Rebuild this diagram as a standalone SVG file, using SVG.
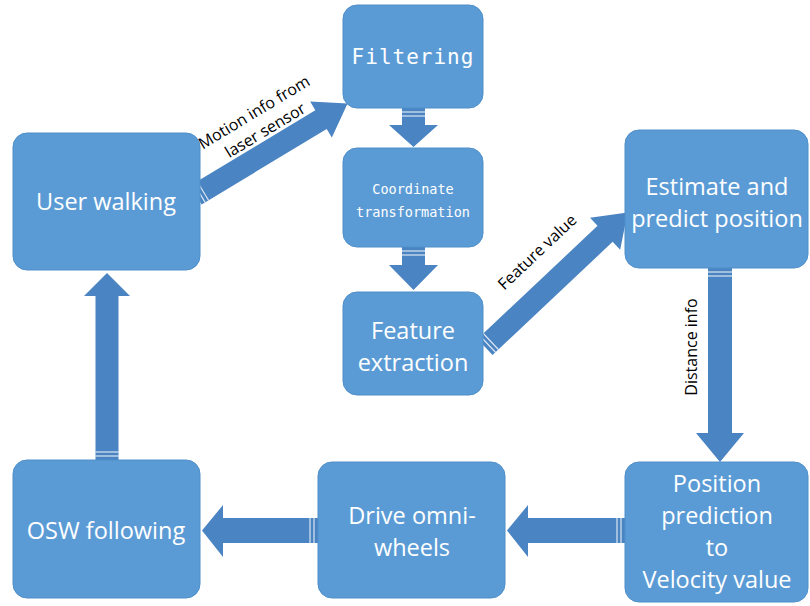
<svg xmlns="http://www.w3.org/2000/svg" width="810" height="606" viewBox="0 0 810 606">
<defs>
<style>
.box{fill:#5b9bd5;stroke:#4f8fca;stroke-width:1}
.arr{fill:#4a84c2}
.st{stroke:#ffffff;stroke-width:1.2;opacity:0.8}
.t{font-family:"Open Sans",Lato,"Liberation Sans",sans-serif;font-size:23.5px;fill:#ffffff;text-anchor:middle}
.m{font-family:"DejaVu Sans Mono","Liberation Mono",monospace;fill:#ffffff;text-anchor:middle}
.lb{font-family:"Open Sans",Lato,"Liberation Sans",sans-serif;font-size:16px;fill:#000000;text-anchor:middle}
</style>
</defs>
<rect width="810" height="606" fill="#ffffff"/>
<g id="connectors">
  <g id="c-user-filter" transform="translate(196,195) rotate(-31.1)">
    <polygon class="arr" points="0,-11 146,-11 146,-21 177,0 146,21 146,11 0,11"/>
    <line class="st" x1="4" y1="-11" x2="4" y2="11"/>
    <line class="st" x1="8" y1="-11" x2="8" y2="11"/>
  </g>
  <g id="c-filter-coord">
    <polygon class="arr" points="402,108 425,108 425,125 438,125 413.5,147 389,125 402,125"/>
    <line class="st" x1="402" y1="112" x2="425" y2="112"/>
    <line class="st" x1="402" y1="116" x2="425" y2="116"/>
  </g>
  <g id="c-coord-feature">
    <polygon class="arr" points="402,247 425,247 425,265 438,265 413.5,290 389,265 402,265"/>
    <line class="st" x1="402" y1="251" x2="425" y2="251"/>
    <line class="st" x1="402" y1="255" x2="425" y2="255"/>
  </g>
  <g id="c-feature-estimate" transform="translate(485,347) rotate(-43.3)">
    <polygon class="arr" points="0,-11 165,-11 165,-22 196,0 165,22 165,11 0,11"/>
    <line class="st" x1="4" y1="-11" x2="4" y2="11"/>
    <line class="st" x1="8" y1="-11" x2="8" y2="11"/>
  </g>
  <g id="c-estimate-position">
    <polygon class="arr" points="708,268 732,268 732,433 744,433 720,462 696,433 708,433"/>
    <line class="st" x1="708" y1="272" x2="732" y2="272"/>
    <line class="st" x1="708" y1="276" x2="732" y2="276"/>
  </g>
  <g id="c-position-drive">
    <polygon class="arr" points="625,518 625,543 528,543 528,557 507,530.5 528,505 528,518"/>
    <line class="st" x1="621" y1="518" x2="621" y2="543"/>
    <line class="st" x1="617" y1="518" x2="617" y2="543"/>
  </g>
  <g id="c-drive-osw">
    <polygon class="arr" points="318,518 318,543 223,543 223,557 202,530.5 223,505 223,518"/>
    <line class="st" x1="314" y1="518" x2="314" y2="543"/>
    <line class="st" x1="310" y1="518" x2="310" y2="543"/>
  </g>
  <g id="c-osw-user">
    <polygon class="arr" points="95.5,460 118.5,460 118.5,296 130,296 107,273 84,296 95.5,296"/>
    <line class="st" x1="95.5" y1="456" x2="118.5" y2="456"/>
    <line class="st" x1="95.5" y1="452" x2="118.5" y2="452"/>
  </g>
  <text class="lb" transform="translate(257,117) rotate(-31.1)">Motion info from</text>
  <text class="lb" transform="translate(268,135) rotate(-31.1)">laser sensor</text>
  <text class="lb" transform="translate(541,256) rotate(-43.3)">Feature value</text>
  <text class="lb" transform="translate(697,347) rotate(-90)">Distance info</text>
</g>
<g id="user-walking">
  <rect class="box" x="13" y="133" width="187" height="137" rx="14"/>
  <text class="t" x="106" y="210">User walking</text>
</g>
<g id="filtering">
  <rect class="box" x="343" y="5" width="140" height="103" rx="14"/>
  <text class="m" x="413" y="64" font-size="21" letter-spacing="1">Filtering</text>
</g>
<g id="coordinate-transformation">
  <rect class="box" x="343" y="148" width="140" height="99" rx="14"/>
  <text class="m" x="413" y="194" font-size="13.5">Coordinate</text>
  <text class="m" x="413" y="217" font-size="13.5">transformation</text>
</g>
<g id="feature-extraction">
  <rect class="box" x="343" y="292" width="140" height="103" rx="14"/>
  <text class="t" x="413" y="339">Feature</text>
  <text class="t" x="413" y="371">extraction</text>
</g>
<g id="estimate-predict">
  <rect class="box" x="625" y="130" width="183" height="138" rx="14"/>
  <text class="t" x="717" y="195">Estimate and</text>
  <text class="t" x="717" y="227">predict position</text>
</g>
<g id="position-prediction">
  <rect class="box" x="625" y="462" width="183" height="140" rx="14"/>
  <text class="t" x="717" y="492">Position</text>
  <text class="t" x="717" y="524">prediction</text>
  <text class="t" x="717" y="556">to</text>
  <text class="t" x="717" y="588">Velocity value</text>
</g>
<g id="drive-omni-wheels">
  <rect class="box" x="318" y="462" width="187" height="136" rx="14"/>
  <text class="t" x="412" y="524">Drive omni-</text>
  <text class="t" x="412" y="556">wheels</text>
</g>
<g id="osw-following">
  <rect class="box" x="13" y="460" width="187" height="138" rx="14"/>
  <text class="t" x="106" y="539">OSW following</text>
</g>
</svg>
